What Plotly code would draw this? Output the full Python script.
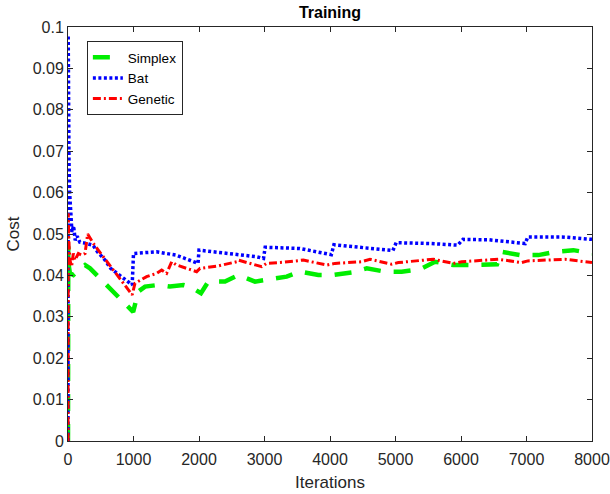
import plotly.graph_objects as go

# Training cost curves (iteration, cost) for each optimiser
simplex_iter = [0, 4, 15, 30, 81, 158, 260, 336, 437, 539, 641, 794, 995, 1074, 1176, 1379,
                1557, 1761, 1863, 2030, 2142, 2397, 2600, 2855, 3058, 3338, 3542, 3822, 4050,
                4330, 4560, 4840, 5094, 5374, 5603, 5883, 6163, 6417, 6550, 6621, 6901, 7180,
                7435, 7715, 8000]
simplex_cost = [0, 0.047, 0.042, 0.0405, 0.0401, 0.0413, 0.0425, 0.0417, 0.0401, 0.0385,
                0.0365, 0.0341, 0.0312, 0.0361, 0.0373, 0.0377, 0.0373, 0.0377, 0.0373, 0.0357,
                0.0385, 0.0385, 0.0401, 0.0385, 0.0389, 0.0397, 0.0409, 0.0401, 0.0401, 0.0407,
                0.0417, 0.0409, 0.0409, 0.0415, 0.0433, 0.0425, 0.0425, 0.0425, 0.0427, 0.0457,
                0.0449, 0.0449, 0.0457, 0.0461, 0.0453]

bat_iter = [0, 3, 8, 15, 25, 40, 60, 85, 110, 140, 180, 260, 380, 450, 565, 650, 820, 900,
            980, 1000, 1150, 1350, 1650, 1900, 1985, 2000, 2500, 2880, 2985, 3010, 3540, 3900,
            4020, 4060, 4700, 4960, 5010, 5530, 5950, 6030, 6430, 6980, 7020, 7540, 8000]
bat_cost = [0, 0.098, 0.085, 0.068, 0.06, 0.055, 0.0505, 0.052, 0.0485, 0.0495, 0.048,
            0.0478, 0.0473, 0.0457, 0.0437, 0.0417, 0.0397, 0.0385, 0.0377, 0.0453, 0.0455,
            0.0457, 0.0449, 0.0433, 0.0429, 0.0461, 0.0453, 0.0445, 0.0441, 0.0468, 0.0465,
            0.0453, 0.045, 0.0474, 0.0465, 0.046, 0.0479, 0.0477, 0.0473, 0.0487, 0.0486,
            0.0477, 0.0493, 0.0493, 0.0487]

genetic_iter = [0, 4, 10, 20, 30, 55, 81, 107, 158, 210, 260, 300, 387, 539, 611, 794, 980,
                1023, 1200, 1354, 1430, 1506, 1583, 1659, 1964, 2015, 2300, 2575, 2600, 2957,
                3033, 3300, 3593, 3949, 4076, 4478, 4611, 4942, 5044, 5578, 5883, 6010, 6570,
                6926, 7020, 7588, 8000]
genetic_cost = [0, 0.055, 0.05, 0.046, 0.0437, 0.0421, 0.0453, 0.0437, 0.0453, 0.0449,
                0.0453, 0.05, 0.0477, 0.0445, 0.043, 0.0389, 0.0353, 0.0381, 0.0397, 0.0405,
                0.0413, 0.0405, 0.0433, 0.0425, 0.0409, 0.0417, 0.0423, 0.0433, 0.0437, 0.0421,
                0.0429, 0.0432, 0.0437, 0.0425, 0.0429, 0.0433, 0.0439, 0.0427, 0.0431, 0.0439,
                0.0429, 0.0433, 0.0439, 0.0431, 0.0435, 0.0439, 0.0431]

x_ticks = [0, 1000, 2000, 3000, 4000, 5000, 6000, 7000, 8000]
y_ticks = [0, 0.01, 0.02, 0.03, 0.04, 0.05, 0.06, 0.07, 0.08, 0.09, 0.1]
y_tick_text = ["0", "0.01", "0.02", "0.03", "0.04", "0.05", "0.06", "0.07", "0.08", "0.09", "0.1"]

AXIS = "#262626"
FONT = "Liberation Sans, Arial, sans-serif"

fig = go.Figure()
fig.add_trace(go.Scatter(x=simplex_iter, y=simplex_cost, mode="lines", name="Simplex",
                         line=dict(color="#00ee00", width=4.5, dash="17px,13px")))
fig.add_trace(go.Scatter(x=bat_iter, y=bat_cost, mode="lines", name="Bat",
                         line=dict(color="#0000ff", width=3.5, dash="3px,2.5px")))
fig.add_trace(go.Scatter(x=genetic_iter, y=genetic_cost, mode="lines", name="Genetic",
                         line=dict(color="#ff0000", width=3, dash="8px,3px,2px,3px")))

axis_common = dict(showgrid=False, zeroline=False, showline=True, linecolor=AXIS,
                   linewidth=1, mirror="ticks", ticks="inside", ticklen=5,
                   tickcolor=AXIS, automargin=False,
                   tickfont=dict(family=FONT, size=16, color=AXIS))

fig.update_layout(
    width=610, height=494,
    margin=dict(l=68, r=18, t=27, b=53),
    paper_bgcolor="white", plot_bgcolor="white",
    font=dict(family=FONT, color=AXIS),
    title=dict(text="<b>Training</b>", x=0.5, xref="paper", y=0.975, yanchor="middle",
               font=dict(family=FONT, size=16, color="black")),
    xaxis=dict(range=[0, 8000], tickvals=x_ticks, ticklabelstandoff=4,
               title=dict(text="Iterations", font=dict(family=FONT, size=17, color=AXIS),
                          standoff=8),
               **axis_common),
    yaxis=dict(range=[0, 0.1], tickvals=y_ticks, ticktext=y_tick_text,
               title=dict(text="Cost", font=dict(family=FONT, size=17, color=AXIS),
                          standoff=8),
               **axis_common),
    legend=dict(x=0.036, y=0.966, xanchor="left", yanchor="top",
                bgcolor="white", bordercolor=AXIS, borderwidth=1,
                font=dict(family=FONT, size=13.5, color="black"),
                tracegroupgap=0, itemwidth=30),
    showlegend=True,
)

fig.write_html("out.html")
